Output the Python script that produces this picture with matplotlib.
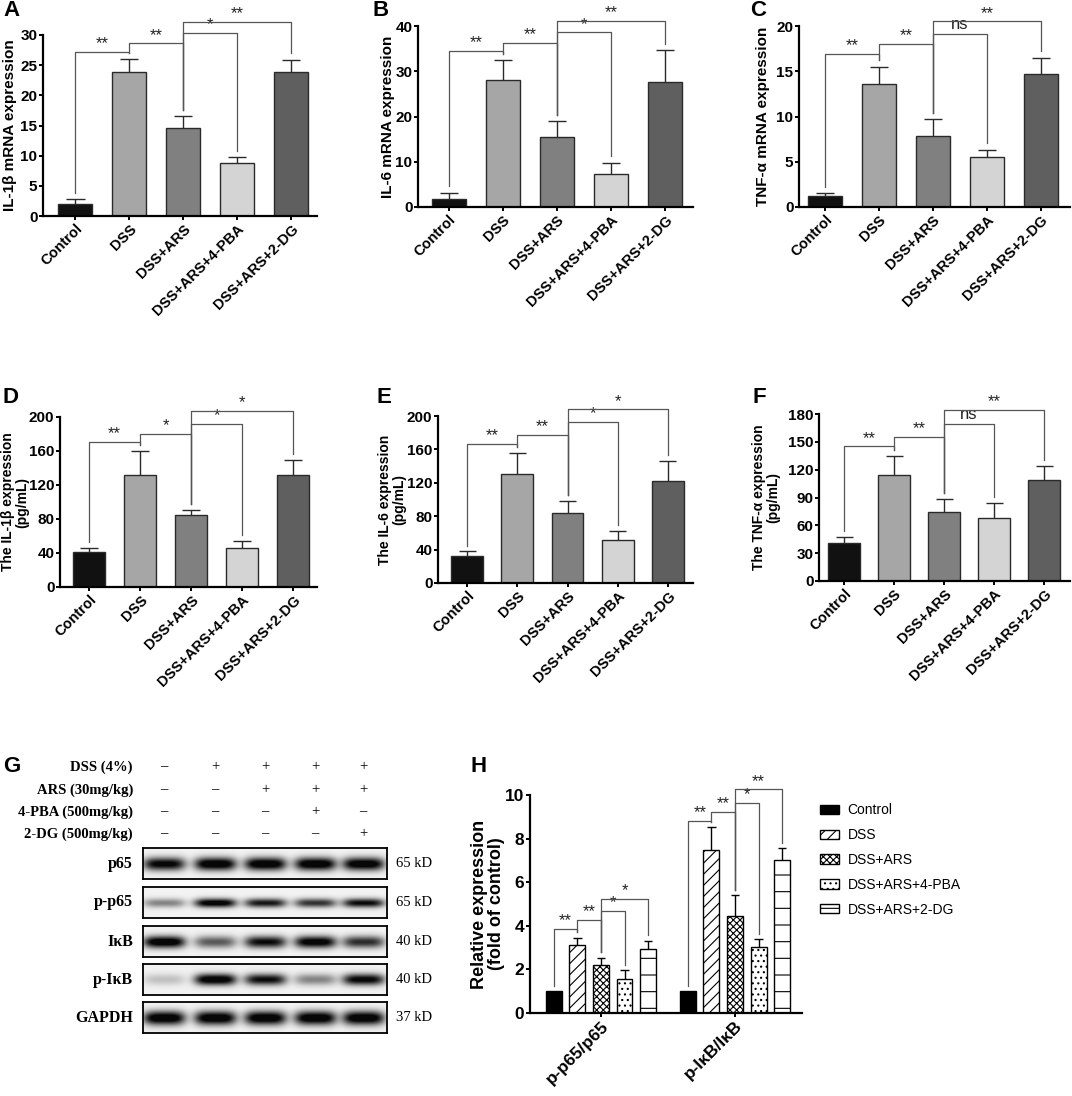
import numpy as np
import matplotlib
matplotlib.use("Agg")
import matplotlib.pyplot as plt
from matplotlib.patches import Patch

plt.rcParams["font.family"] = ["Liberation Sans", "DejaVu Sans"]
plt.rcParams["hatch.linewidth"] = 0.8
plt.rcParams["hatch.color"] = "black"

W, H = 1072, 1096

groups = ["Control", "DSS", "DSS+ARS", "DSS+ARS+4-PBA", "DSS+ARS+2-DG"]
bar_colors = ["#111111", "#a6a6a6", "#808080", "#d4d4d4", "#5f5f5f"]

# A - IL-1b mRNA
il1b_mrna = [2.0, 23.9, 14.6, 8.8, 23.9]
il1b_mrna_err = [0.8, 2.1, 1.9, 0.9, 2.0]
il1b_mrna_sig = [(0, 1, 27.2, "**"), (1, 2, 28.6, "**"), (2, 3, 30.3, "*"), (2, 4, 32.2, "**")]
# B - IL-6 mRNA
il6_mrna = [1.85, 28.0, 15.4, 7.2, 27.7]
il6_mrna_err = [1.35, 4.4, 3.6, 2.6, 7.0]
il6_mrna_sig = [(0, 1, 34.5, "**"), (1, 2, 36.2, "**"), (2, 3, 38.6, "*"), (2, 4, 41.1, "**")]
# C - TNF-a mRNA
tnf_mrna = [1.2, 13.6, 7.86, 5.53, 14.7]
tnf_mrna_err = [0.35, 1.9, 1.88, 0.82, 1.8]
tnf_mrna_sig = [(0, 1, 16.9, "**"), (1, 2, 18.0, "**"), (2, 3, 19.1, "ns"), (2, 4, 20.5, "**")]
# D - IL-1b protein
il1b_pg = [41, 132, 85, 45.5, 132]
il1b_pg_err = [5, 28, 6, 8.5, 18]
il1b_pg_sig = [(0, 1, 171, "**"), (1, 2, 180, "*"), (2, 3, 192, "*"), (2, 4, 207, "*")]
# E - IL-6 protein
il6_pg = [32.6, 130, 84, 51, 122]
il6_pg_err = [5.2, 26, 14, 11, 24]
il6_pg_sig = [(0, 1, 167, "**"), (1, 2, 177, "**"), (2, 3, 193, "*"), (2, 4, 208, "*")]
# F - TNF-a protein
tnf_pg = [40.6, 114, 74, 67.6, 109]
tnf_pg_err = [6.8, 21, 14.4, 16.4, 15]
tnf_pg_sig = [(0, 1, 145, "**"), (1, 2, 155.6, "**"), (2, 3, 169, "ns"), (2, 4, 184, "**")]

# G - western blot
cond_labels = ["DSS (4%)", "ARS (30mg/kg)", "4-PBA (500mg/kg)", "2-DG (500mg/kg)"]
cond_signs = [["–", "+", "+", "+", "+"],
              ["–", "–", "+", "+", "+"],
              ["–", "–", "–", "+", "–"],
              ["–", "–", "–", "–", "+"]]
blot_rows = ["p65", "p-p65", "IκB", "p-IκB", "GAPDH"]
blot_kd = ["65 kD", "65 kD", "40 kD", "40 kD", "37 kD"]
blot_band = [[0.90, 1.00, 1.00, 1.00, 0.98],
             [0.40, 0.95, 0.80, 0.70, 0.85],
             [1.00, 0.55, 0.85, 0.95, 0.72],
             [0.18, 1.00, 0.85, 0.40, 0.90],
             [1.00, 1.00, 1.00, 1.00, 1.00]]

# H - quantification
h_groups = ["p-p65/p65", "p-IκB/IκB"]
h_vals = [[1.0, 3.1, 2.22, 1.58, 2.94],
          [1.0, 7.5, 4.46, 3.02, 7.01]]
h_err = [[0.0, 0.35, 0.31, 0.38, 0.38],
         [0.0, 1.01, 0.95, 0.36, 0.54]]
h_sig = [[(0, 1, 3.87, "**"), (1, 2, 4.26, "**"), (2, 3, 4.67, "*"), (2, 4, 5.25, "*")],
         [(0, 1, 8.82, "**"), (1, 2, 9.23, "**"), (2, 3, 9.65, "*"), (2, 4, 10.26, "**")]]
h_hatches = [None, "///", "xxxxx", "...", "-"]


def rect(l, t, r, b):
    return [l / W, 1 - b / H, (r - l) / W, (b - t) / H]


def style_axes(ax, yticks, size):
    for s in ("top", "right"):
        ax.spines[s].set_visible(False)
    for s in ("left", "bottom"):
        ax.spines[s].set_linewidth(1.6)
    ax.spines["left"].set_bounds(0, yticks[-1])
    ax.set_ylim(0, yticks[-1])
    ax.set_yticks(yticks)
    ax.tick_params(width=1.4, length=3, pad=1, labelsize=size)
    for lab in ax.get_yticklabels():
        lab.set_fontweight("bold")


def draw_sig(ax, x, tops, sigs, gap):
    for i, j, h, s in sigs:
        ax.plot([x[i], x[i], x[j], x[j]], [tops[i] + gap, h, h, tops[j] + gap],
                color="#555555", lw=0.9, clip_on=False, zorder=3)
        ax.annotate(s, ((x[i] + x[j]) / 2, h), xytext=(0, 0.5 if s != "ns" else 1.5),
                    textcoords="offset points", ha="center", va="bottom",
                    fontsize=12, color="#222222", annotation_clip=False)


def bar_panel(ax, vals, errs, sigs, yticks, xlim):
    x = np.arange(len(vals))
    vals = np.array(vals, float)
    tops = vals + np.array(errs, float)
    ax.vlines(x, vals, tops, color="#2a2a2a", lw=1.0, zorder=1)
    ax.hlines(tops, x - 0.17, x + 0.17, color="#2a2a2a", lw=1.0, zorder=1)
    ax.bar(x, vals, width=0.63, color=bar_colors, edgecolor="#2a2a2a", linewidth=1.0, zorder=2)
    style_axes(ax, yticks, 11)
    ax.set_xlim(*xlim)
    ax.set_xticks(x)
    ax.set_xticklabels(groups, rotation=45, ha="right", rotation_mode="anchor",
                       fontsize=10.5, fontweight="bold")
    draw_sig(ax, x, tops, sigs, 0.035 * yticks[-1])


def ylabel_at(px, top, bottom, text, size):
    fig.text(px / W, 1 - (top + bottom) / 2 / H, text, rotation=90, ha="center", va="center",
             fontsize=size, fontweight="bold", linespacing=1.05)


fig = plt.figure(figsize=(W / 100, H / 100), dpi=100)

panels = [
    ((43, 35, 317, 216), il1b_mrna, il1b_mrna_err, il1b_mrna_sig, np.arange(0, 31, 5),
     "IL-1β mRNA expression", (-0.6, 4.48), 10, 11),
    ((418, 26, 693, 207), il6_mrna, il6_mrna_err, il6_mrna_sig, np.arange(0, 41, 10),
     "IL-6 mRNA expression", (-0.57, 4.52), 388, 11),
    ((799, 26, 1070, 207), tnf_mrna, tnf_mrna_err, tnf_mrna_sig, np.arange(0, 21, 5),
     "TNF-α mRNA expression", (-0.48, 4.54), 763, 11),
    ((60, 417, 317, 587), il1b_pg, il1b_pg_err, il1b_pg_sig, np.arange(0, 201, 40),
     "The IL-1β expression\n(pg/mL)", (-0.57, 4.47), 15, 10),
    ((438, 416, 693, 583), il6_pg, il6_pg_err, il6_pg_sig, np.arange(0, 201, 40),
     "The IL-6 expression\n(pg/mL)", (-0.58, 4.5), 392, 10),
    ((819, 414, 1070, 581), tnf_pg, tnf_pg_err, tnf_pg_sig, np.arange(0, 181, 30),
     "The TNF-α expression\n(pg/mL)", (-0.5, 4.52), 766, 10),
]
for box, v, e, s, yt, yl, xl, lx, ls in panels:
    ax = fig.add_axes(rect(*box))
    bar_panel(ax, v, e, s, yt, xl)
    ylabel_at(lx, box[1], box[3], yl, ls)

letters = [("A", 3, 10), ("B", 373, 10), ("C", 750, 10), ("D", 3, 398), ("E", 376, 398),
           ("F", 752, 398), ("G", 3, 766), ("H", 470, 766)]
for t, px, py in letters:
    fig.text(px / W, 1 - py / H, t, fontsize=16, fontweight="bold", va="center", ha="left")

# ---- G: western blot ----
lane_x = [164, 215, 265, 315, 363]
cond_y = [767, 790, 812, 834]
for lab, signs, py in zip(cond_labels, cond_signs, cond_y):
    fig.text(133 / W, 1 - py / H, lab, family="Liberation Serif", fontweight="bold",
             fontsize=10.5, ha="right", va="center")
    for sg, px in zip(signs, lane_x):
        fig.text(px / W, 1 - py / H, sg, family="Liberation Serif", fontsize=10.5,
                 ha="center", va="center")

box_tops = [848, 887, 926, 964, 1002]
band_sig = [6.5, 4.5, 6.0, 5.5, 7.0]
bw, bh = 244, 31
xx = np.arange(bw)[None, :]
yy = np.arange(bh)[:, None]
for r, (name, kd, top) in enumerate(zip(blot_rows, blot_kd, box_tops)):
    ax = fig.add_axes(rect(143, top, 143 + bw, top + bh))
    img = np.full((bh, bw), 0.95)
    for k, lx in enumerate(lane_x):
        c = lx - 143
        prof = np.exp(-((xx - c) / 21.0) ** 4) * np.exp(-((yy - bh / 2) / band_sig[r]) ** 2)
        img = img * (1 - np.clip(1.15 * blot_band[r][k] * prof, 0, 0.97))
    ax.imshow(img, cmap="gray", vmin=0, vmax=1, aspect="auto", interpolation="bilinear",
              extent=(0, bw, bh, 0))
    ax.set_xticks([])
    ax.set_yticks([])
    for s in ax.spines.values():
        s.set_linewidth(1.3)
    fig.text(133 / W, 1 - (top + bh / 2) / H, name, family="Liberation Serif",
             fontweight="bold", fontsize=11.5, ha="right", va="center")
    fig.text(396 / W, 1 - (top + bh / 2) / H, kd, family="Liberation Serif",
             fontsize=10.5, ha="left", va="center")

# ---- H: quantification ----
axh = fig.add_axes(rect(530, 795, 802, 1013))
offsets = [0.0, 5.7]
for g, off in enumerate(offsets):
    x = np.arange(5) + off
    vals = np.array(h_vals[g])
    tops = vals + np.array(h_err[g])
    for k in range(5):
        if h_err[g][k] > 0:
            axh.vlines(x[k], vals[k], tops[k], color="black", lw=1.0, zorder=1)
            axh.hlines(tops[k], x[k] - 0.18, x[k] + 0.18, color="black", lw=1.0, zorder=1)
        axh.bar(x[k], vals[k], width=0.68, color="black" if k == 0 else "white",
                edgecolor="black", linewidth=1.0, hatch=h_hatches[k], zorder=2)
    draw_sig(axh, x, tops, h_sig[g], 0.25)
style_axes(axh, np.arange(0, 11, 2), 12.5)
axh.set_xlim(-1.02, 10.55)
axh.set_xticks([off + 2 for off in offsets])
axh.set_xticklabels(h_groups, rotation=45, ha="right", rotation_mode="anchor",
                    fontsize=12.5, fontweight="bold")
ylabel_at(488, 795, 1013, "Relative expression\n(fold of control)", 13)

handles = [Patch(facecolor="black" if k == 0 else "white", edgecolor="black",
                 hatch=h_hatches[k], linewidth=1.0) for k in range(5)]
fig.legend(handles, groups, loc="upper left", bbox_to_anchor=(812 / W, 1 - 795 / H),
           frameon=False, fontsize=10, handlelength=1.35, handleheight=0.65,
           labelspacing=0.78, handletextpad=0.6, borderaxespad=0.2)

fig.savefig("out.png", dpi=100)
